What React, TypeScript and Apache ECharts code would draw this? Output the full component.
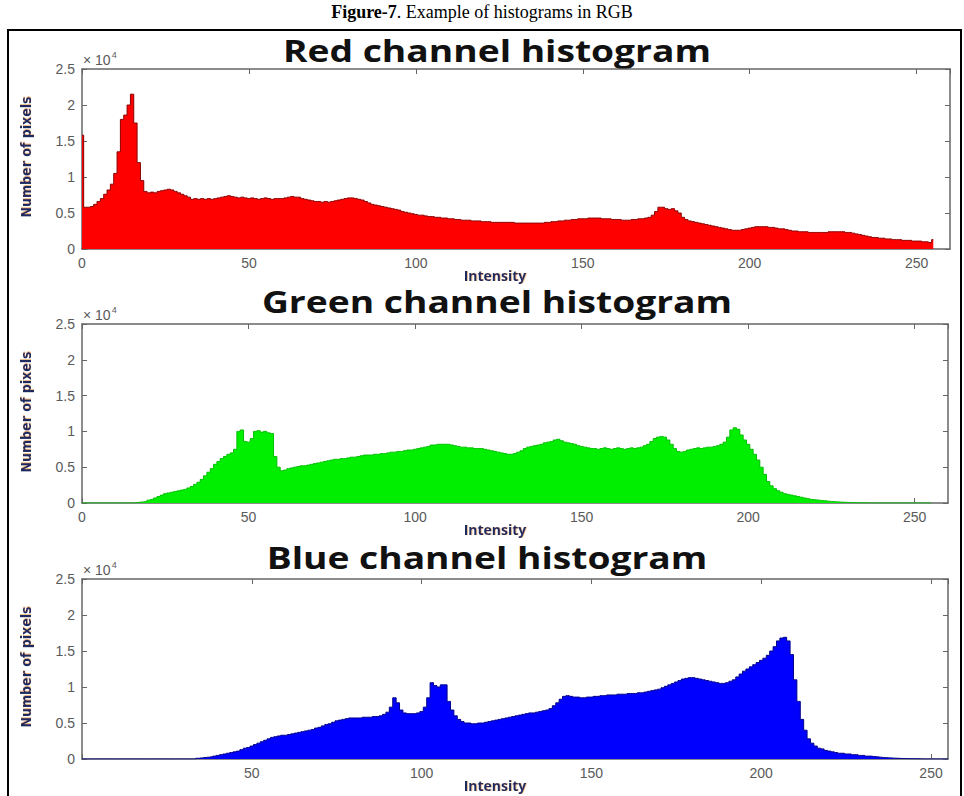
import React, { useEffect, useRef } from "react";
import * as echarts from "echarts";

// Histogram counts per intensity bin 0..255, in units of 10^4 pixels
const redCounts = [
  1.58, 0.58, 0.58, 0.59, 0.62, 0.66, 0.70, 0.76, 0.82, 0.90,
  1.05, 1.35, 1.80, 1.86, 2.00, 2.15, 1.75, 1.20, 0.95, 0.80,
  0.78, 0.79, 0.78, 0.80, 0.81, 0.82, 0.83, 0.82, 0.80, 0.78,
  0.76, 0.74, 0.72, 0.69, 0.70, 0.69, 0.70, 0.69, 0.70, 0.69,
  0.70, 0.71, 0.72, 0.73, 0.74, 0.73, 0.72, 0.71, 0.72, 0.71,
  0.70, 0.71, 0.70, 0.69, 0.70, 0.71, 0.70, 0.69, 0.70, 0.70,
  0.70, 0.71, 0.72, 0.73, 0.72, 0.72, 0.70, 0.69, 0.68, 0.67,
  0.66, 0.66, 0.65, 0.66, 0.65, 0.66, 0.67, 0.68, 0.69, 0.70,
  0.71, 0.71, 0.70, 0.69, 0.68, 0.66, 0.64, 0.62, 0.61, 0.60,
  0.59, 0.58, 0.57, 0.56, 0.55, 0.54, 0.52, 0.51, 0.50, 0.49,
  0.48, 0.47, 0.47, 0.46, 0.45, 0.45, 0.44, 0.44, 0.43, 0.43,
  0.42, 0.42, 0.41, 0.41, 0.40, 0.40, 0.40, 0.39, 0.39, 0.39,
  0.38, 0.38, 0.38, 0.37, 0.37, 0.37, 0.37, 0.37, 0.37, 0.37,
  0.36, 0.36, 0.36, 0.36, 0.36, 0.36, 0.36, 0.36, 0.36, 0.37,
  0.37, 0.38, 0.38, 0.39, 0.39, 0.40, 0.40, 0.41, 0.41, 0.42,
  0.42, 0.42, 0.43, 0.43, 0.43, 0.43, 0.42, 0.42, 0.42, 0.41,
  0.41, 0.41, 0.40, 0.40, 0.40, 0.41, 0.41, 0.42, 0.42, 0.43,
  0.44, 0.47, 0.52, 0.58, 0.58, 0.56, 0.55, 0.56, 0.53, 0.50,
  0.44, 0.41, 0.39, 0.38, 0.37, 0.36, 0.35, 0.34, 0.33, 0.32,
  0.31, 0.30, 0.29, 0.28, 0.27, 0.26, 0.26, 0.26, 0.27, 0.28,
  0.29, 0.30, 0.31, 0.31, 0.31, 0.31, 0.30, 0.30, 0.29, 0.28,
  0.28, 0.27, 0.26, 0.25, 0.25, 0.24, 0.24, 0.24, 0.23, 0.23,
  0.23, 0.23, 0.23, 0.23, 0.24, 0.24, 0.24, 0.24, 0.24, 0.23,
  0.23, 0.22, 0.21, 0.20, 0.19, 0.18, 0.17, 0.16, 0.16, 0.15,
  0.15, 0.14, 0.14, 0.13, 0.13, 0.13, 0.12, 0.12, 0.12, 0.11,
  0.11, 0.11, 0.10, 0.10, 0.09, 0.13,
];

const greenCounts = [
  0, 0, 0, 0, 0, 0, 0, 0, 0, 0,
  0, 0, 0, 0, 0, 0, 0.005, 0.01, 0.015, 0.02,
  0.04, 0.05, 0.07, 0.09, 0.11, 0.13, 0.14, 0.15, 0.16, 0.17,
  0.18, 0.19, 0.21, 0.23, 0.26, 0.29, 0.33, 0.38, 0.43, 0.48,
  0.54, 0.58, 0.62, 0.65, 0.68, 0.70, 0.75, 1.00, 1.02, 0.86,
  0.85, 0.90, 1.00, 1.01, 0.99, 1.00, 0.98, 0.97, 0.65, 0.50,
  0.45, 0.46, 0.48, 0.49, 0.50, 0.51, 0.52, 0.52, 0.53, 0.54,
  0.55, 0.56, 0.57, 0.58, 0.59, 0.60, 0.61, 0.61, 0.62, 0.62,
  0.63, 0.64, 0.64, 0.65, 0.66, 0.67, 0.67, 0.67, 0.68, 0.68,
  0.69, 0.69, 0.70, 0.71, 0.71, 0.72, 0.72, 0.73, 0.74, 0.74,
  0.75, 0.76, 0.77, 0.78, 0.79, 0.81, 0.81, 0.82, 0.82, 0.82,
  0.82, 0.81, 0.80, 0.79, 0.78, 0.78, 0.77, 0.77, 0.76, 0.76,
  0.76, 0.75, 0.74, 0.73, 0.72, 0.71, 0.70, 0.69, 0.68, 0.68,
  0.69, 0.71, 0.73, 0.76, 0.78, 0.79, 0.80, 0.81, 0.82, 0.84,
  0.85, 0.86, 0.88, 0.89, 0.87, 0.85, 0.84, 0.83, 0.82, 0.80,
  0.79, 0.78, 0.77, 0.76, 0.76, 0.75, 0.76, 0.77, 0.76, 0.75,
  0.76, 0.77, 0.76, 0.75, 0.76, 0.77, 0.76, 0.77, 0.78, 0.80,
  0.82, 0.86, 0.90, 0.92, 0.93, 0.92, 0.88, 0.82, 0.76, 0.72,
  0.71, 0.72, 0.74, 0.75, 0.76, 0.77, 0.76, 0.77, 0.78, 0.78,
  0.79, 0.80, 0.82, 0.85, 0.92, 1.02, 1.05, 1.03, 0.95, 0.88,
  0.82, 0.75, 0.68, 0.60, 0.50, 0.40, 0.30, 0.24, 0.20, 0.17,
  0.15, 0.13, 0.12, 0.11, 0.10, 0.09, 0.08, 0.07, 0.06, 0.05,
  0.045, 0.04, 0.035, 0.03, 0.025, 0.02, 0.018, 0.015, 0.012, 0.01,
  0.008, 0.006, 0.005, 0.004, 0.003, 0.002, 0.001, 0, 0, 0,
  0, 0, 0, 0, 0, 0, 0, 0, 0, 0,
  0, 0, 0, 0, 0, 0,
];

const blueCounts = [
  0, 0, 0, 0, 0, 0, 0, 0, 0, 0,
  0, 0, 0, 0, 0, 0, 0, 0, 0, 0,
  0, 0, 0, 0, 0, 0, 0, 0, 0, 0,
  0, 0, 0, 0, 0.01, 0.015, 0.02, 0.025, 0.03, 0.04,
  0.05, 0.06, 0.07, 0.08, 0.09, 0.10, 0.11, 0.13, 0.15, 0.16,
  0.18, 0.20, 0.22, 0.24, 0.26, 0.28, 0.30, 0.31, 0.32, 0.33,
  0.33, 0.34, 0.35, 0.36, 0.37, 0.38, 0.39, 0.40, 0.41, 0.43,
  0.44, 0.46, 0.48, 0.49, 0.51, 0.53, 0.54, 0.55, 0.56, 0.57,
  0.57, 0.57, 0.57, 0.58, 0.58, 0.58, 0.59, 0.59, 0.60, 0.62,
  0.65, 0.72, 0.85, 0.78, 0.68, 0.64, 0.63, 0.63, 0.63, 0.64,
  0.66, 0.72, 0.85, 1.06, 1.02, 1.00, 1.03, 1.03, 0.80, 0.68,
  0.60, 0.55, 0.52, 0.50, 0.50, 0.49, 0.49, 0.50, 0.50, 0.51,
  0.52, 0.53, 0.54, 0.55, 0.56, 0.57, 0.58, 0.59, 0.60, 0.61,
  0.62, 0.63, 0.64, 0.64, 0.65, 0.66, 0.67, 0.68, 0.70, 0.74,
  0.78, 0.83, 0.87, 0.88, 0.87, 0.86, 0.86, 0.85, 0.85, 0.86,
  0.86, 0.87, 0.87, 0.88, 0.88, 0.89, 0.89, 0.89, 0.90, 0.90,
  0.90, 0.91, 0.91, 0.91, 0.92, 0.92, 0.93, 0.94, 0.95, 0.96,
  0.97, 0.99, 1.01, 1.03, 1.05, 1.07, 1.09, 1.11, 1.12, 1.13,
  1.13, 1.12, 1.11, 1.10, 1.09, 1.08, 1.07, 1.06, 1.05, 1.05,
  1.06, 1.08, 1.10, 1.14, 1.18, 1.22, 1.25, 1.28, 1.31, 1.34,
  1.37, 1.40, 1.44, 1.50, 1.56, 1.64, 1.68, 1.69, 1.64, 1.45,
  1.10, 0.80, 0.55, 0.40, 0.28, 0.22, 0.18, 0.15, 0.14, 0.12,
  0.11, 0.10, 0.09, 0.08, 0.08, 0.07, 0.07, 0.06, 0.06, 0.05,
  0.05, 0.04, 0.04, 0.035, 0.03, 0.025, 0.02, 0.018, 0.015, 0.012,
  0.01, 0.008, 0.006, 0.005, 0.004, 0.003, 0.002, 0.001, 0, 0,
  0, 0, 0, 0, 0, 0,
];

const panelTitles = ["Red channel histogram", "Green channel histogram", "Blue channel histogram"];
const xMaxes = [260, 260, 255];
const yTicks = [0, 0.5, 1, 1.5, 2, 2.5];
const caption = "Figure-7";
const captionRest = ". Example of histograms in RGB";

export default function App() {
  const ref = useRef<HTMLDivElement>(null);

  useEffect(() => {
    if (!ref.current) return;
    const chart = echarts.init(ref.current, undefined, { renderer: "svg" });

    const grids = [
      { left: 82, top: 69, width: 868, height: 180 },
      { left: 82, top: 324, width: 866, height: 179 },
      { left: 82, top: 579, width: 866, height: 180 },
    ];
    const titleOffsets = [19, 23, 22];
    const titleCenters = [497, 497, 487];
    const seriesData = [redCounts, greenCounts, blueCounts];
    const fills = ["#ff0000", "#00ee00", "#0000ff"];
    const edges = ["#8a0000", "#00c000", "#00008a"];
    const axisColor = "#666666";
    const labelColor = "#5a5a5a";
    const tickFont = "Liberation Sans";

    const xAxis: any[] = [];
    const yAxis: any[] = [];
    const series: any[] = [];
    const graphic: any[] = [];

    grids.forEach((g, i) => {
      xAxis.push({
        type: "value",
        gridIndex: i,
        min: 0,
        max: xMaxes[i],
        interval: 50,
        position: "bottom",
        axisLine: { show: true, onZero: false, lineStyle: { color: axisColor, width: 1.5 } },
        axisTick: { show: true, inside: true, length: 5, lineStyle: { color: axisColor } },
        axisLabel: {
          color: labelColor,
          fontSize: 14,
          fontFamily: tickFont,
          margin: 7,
          showMaxLabel: false,
          formatter: (v: number) => (i === 2 && v === 0 ? "" : String(v)),
        },
        splitLine: { show: false },
      });
      xAxis.push({
        type: "value",
        gridIndex: i,
        min: 0,
        max: xMaxes[i],
        interval: 50,
        position: "top",
        axisLine: { show: true, onZero: false, lineStyle: { color: axisColor, width: 1.5 } },
        axisTick: { show: true, inside: true, length: 5, lineStyle: { color: axisColor } },
        axisLabel: { show: false },
        splitLine: { show: false },
      });
      yAxis.push({
        type: "value",
        gridIndex: i,
        min: yTicks[0],
        max: yTicks[yTicks.length - 1],
        interval: 0.5,
        position: "left",
        axisLine: { show: true, onZero: false, lineStyle: { color: axisColor, width: 1.5 } },
        axisTick: { show: true, inside: true, length: 5, lineStyle: { color: axisColor } },
        axisLabel: { color: labelColor, fontSize: 14, fontFamily: tickFont, margin: 7 },
        splitLine: { show: false },
      });
      yAxis.push({
        type: "value",
        gridIndex: i,
        min: yTicks[0],
        max: yTicks[yTicks.length - 1],
        interval: 0.5,
        position: "right",
        axisLine: { show: true, onZero: false, lineStyle: { color: axisColor, width: 1.5 } },
        axisTick: { show: true, inside: true, length: 5, lineStyle: { color: axisColor } },
        axisLabel: { show: false },
        splitLine: { show: false },
      });
      series.push({
        type: "line",
        xAxisIndex: i * 2,
        yAxisIndex: i * 2,
        step: "middle",
        symbol: "none",
        silent: true,
        data: seriesData[i].map((v, k) => [k, v]),
        lineStyle: { color: edges[i], width: 1 },
        areaStyle: { color: fills[i], opacity: 1 },
        z: 1,
      });

      // panel title
      graphic.push({
        type: "text",
        x: titleCenters[i],
        y: g.top - titleOffsets[i],
        scaleX: 1.2,
        style: {
          text: panelTitles[i],
          fontFamily: "Open Sans",
          fontWeight: "bold",
          fontSize: 31,
          fill: "#111111",
          textAlign: "center",
          textVerticalAlign: "middle",
        },
      });
      // x 10^4 multiplier
      graphic.push({
        type: "text",
        x: 83,
        y: g.top - 9,
        style: {
          text: "× 10{s|4}",
          fontFamily: tickFont,
          fontSize: 14,
          fill: labelColor,
          textAlign: "left",
          textVerticalAlign: "middle",
          rich: { s: { fontSize: 9, verticalAlign: "top", padding: [0, 0, 11, 1], fill: labelColor } },
        },
      });
      // y axis name
      graphic.push({
        type: "text",
        x: 26,
        y: g.top + 88,
        rotation: Math.PI / 2,
        style: {
          text: "Number of pixels",
          fontFamily: "DejaVu Sans Condensed",
          fontWeight: "bold",
          fontSize: 14,
          fill: "#1c2a5e",
          textAlign: "center",
          textVerticalAlign: "middle",
          textShadowColor: "rgba(230,150,60,0.6)",
          textShadowOffsetX: 1,
          textShadowOffsetY: 0,
          textShadowBlur: 1,
        },
      });
      // x axis name
      graphic.push({
        type: "text",
        x: 495,
        y: g.top + g.height + 26,
        style: {
          text: "Intensity",
          fontFamily: "Open Sans",
          fontWeight: "bold",
          fontSize: 14,
          fill: "#1c2a5e",
          textAlign: "center",
          textVerticalAlign: "middle",
          textShadowColor: "rgba(230,150,60,0.5)",
          textShadowOffsetX: 1,
          textShadowBlur: 1,
        },
      });
    });

    graphic.push({
      type: "text",
      x: 482,
      y: 12,
      style: {
        text: "{b|" + caption + "}" + captionRest,
        fontFamily: "Liberation Serif",
        fontSize: 18,
        fill: "#000000",
        textAlign: "center",
        textVerticalAlign: "middle",
        rich: { b: { fontWeight: "bold", fontFamily: "Liberation Serif", fontSize: 18, fill: "#000000" } },
      },
    });
    graphic.push({
      type: "rect",
      shape: { x: 8, y: 30, width: 953, height: 800 },
      style: { fill: "none", stroke: "#000000", lineWidth: 2 },
      silent: true,
      z: 100,
    });

    chart.setOption({
      animation: false,
      backgroundColor: "#ffffff",
      grid: grids,
      xAxis,
      yAxis,
      series,
      graphic,
    });

    return () => chart.dispose();
  }, []);

  return (
    <div
      ref={ref}
      style={{ position: "absolute", left: 0, top: 0, width: 964, height: 796 }}
    />
  );
}
